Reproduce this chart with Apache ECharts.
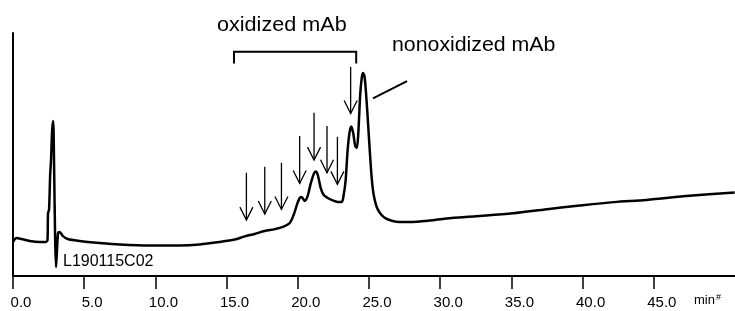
<!DOCTYPE html>
<html>
<head>
<meta charset="utf-8">
<script src="https://cdn.jsdelivr.net/npm/echarts@6/dist/echarts.min.js"></script>
<style>
  html, body { margin: 0; padding: 0; background: #fff; }
  #chart { width: 735px; height: 311px; }
</style>
</head>
<body>
<div id="chart"></div>
<script>
// chromatogram trace (min, relative signal)
const traceTime = [0, 0.26, 0.6, 1.17, 1.87, 2.3, 2.42, 2.46, 2.53, 2.61, 2.67, 2.75, 2.82, 2.89, 2.96, 3.02, 3.09, 3.17, 3.28, 3.49, 3.84,
  4.68, 6.09, 7.49, 9.6, 11.7, 13.1, 14.5, 15.57, 16.27, 16.97, 17.67, 18.38, 18.94, 19.43, 19.73, 19.93, 20.13, 20.27, 20.48, 20.69,
  20.9, 21.12, 21.26, 21.4, 21.61, 21.82, 22.1, 22.45, 22.8, 23.08, 23.22, 23.36, 23.5, 23.64, 23.76, 23.89, 24.03, 24.14, 24.24,
  24.38, 24.49, 24.58, 24.68, 24.8, 24.94, 25.05, 25.19, 25.33, 25.54, 25.82, 26.17, 26.66, 27.15, 27.85, 29.26, 30.43, 32.5,
  35.11, 37.5, 39.8, 42.2, 44.48, 47.5, 50.68];
const traceSignal = [14.0, 15.6, 15.2, 14.4, 14.0, 14.0, 14.8, 25.9, 27.2, 41.6, 47.7, 60.1, 63.8, 43.6, 14.8, 3.7, 10.7, 17.7, 18.1, 16.5, 15.2,
  14.4, 13.6, 13.0, 12.6, 12.6, 13.0, 14.0, 15.0, 16.3, 17.3, 18.5, 19.3, 20.2, 21.8, 25.5, 29.2, 32.1, 32.5, 30.9, 32.9,
  37.9, 42.0, 43.0, 41.6, 36.2, 33.3, 32.1, 31.1, 30.5, 30.5, 33.3, 39.5, 51.9, 59.3, 61.5, 58.8, 53.5, 52.7, 58.0,
  74.5, 81.5, 83.5, 82.3, 74.5, 62.1, 51.9, 40.3, 33.3, 28.4, 25.5, 23.7, 22.6, 22.2, 22.2, 22.8, 23.7, 24.6,
  25.8, 27.5, 29.0, 30.4, 31.3, 33.0, 34.4];

const xTickValues = [0, 5, 10, 15, 20, 25, 30, 35, 40, 45];

// arrows: time, shaft top, arrow tip
const arrowTime = [16.39, 17.68, 18.85, 20.13, 21.14, 22.05, 22.78, 23.71];
const arrowTop = [42.5, 45.0, 46.6, 57.6, 67.2, 61.7, 57.3, 86.1];
const arrowTip = [23.0, 25.5, 27.4, 38.1, 47.7, 42.5, 37.7, 66.9];

// bracket over the oxidized peaks: start, end, top level, foot level
const bracket = [15.52, 24.1, 92.3, 87.5];
// leader line to the main peak: t1, v1, t2, v2
const leader = [25.28, 73.1, 27.67, 80.2];

const chart = echarts.init(document.getElementById('chart'));

const arrowData = arrowTime.map((t, i) => [t, arrowTop[i], arrowTip[i]]);

const option = {
  animation: false,
  backgroundColor: '#fff',
  grid: { left: 13, right: 0, top: 33, bottom: 35 },
  xAxis: {
    type: 'value',
    min: 0,
    max: 50.7,
    axisLine: { lineStyle: { color: '#000', width: 2 } },
    axisTick: { customValues: xTickValues, length: 13, lineStyle: { color: '#000', width: 1.5 } },
    axisLabel: {
      customValues: xTickValues,
      formatter: v => v.toFixed(1),
      color: '#000',
      fontFamily: 'Liberation Sans',
      fontSize: 15,
      margin: 19,
      padding: [0, 0, 0, 16]
    },
    splitLine: { show: false }
  },
  yAxis: {
    type: 'value',
    min: 0,
    max: 100,
    axisLine: { show: true, lineStyle: { color: '#000', width: 2 } },
    axisTick: { show: false },
    axisLabel: { show: false },
    splitLine: { show: false }
  },
  series: [
    {
      type: 'line',
      data: traceTime.map((t, i) => [t, traceSignal[i]]),
      showSymbol: false,
      smooth: 0.3,
      lineStyle: { color: '#000', width: 2.5 }
    },
    {
      type: 'custom',
      data: arrowData,
      renderItem: (params, api) => {
        const top = api.coord([api.value(0), api.value(1)]);
        const tip = api.coord([api.value(0), api.value(2)]);
        const style = { stroke: '#000', lineWidth: 1.3, fill: null };
        return {
          type: 'group',
          children: [
            { type: 'line', shape: { x1: top[0], y1: top[1], x2: tip[0], y2: tip[1] }, style },
            { type: 'polyline', shape: { points: [[tip[0] - 6.5, tip[1] - 13], tip, [tip[0] + 6.5, tip[1] - 13]] }, style }
          ]
        };
      }
    },
    {
      type: 'custom',
      data: [bracket],
      renderItem: (params, api) => {
        const a = api.coord([api.value(0), api.value(3)]);
        const b = api.coord([api.value(0), api.value(2)]);
        const c = api.coord([api.value(1), api.value(2)]);
        const d = api.coord([api.value(1), api.value(3)]);
        return {
          type: 'polyline',
          shape: { points: [a, b, c, d] },
          style: { stroke: '#000', lineWidth: 2, fill: null }
        };
      }
    },
    {
      type: 'custom',
      data: [leader],
      renderItem: (params, api) => {
        const p1 = api.coord([api.value(0), api.value(1)]);
        const p2 = api.coord([api.value(2), api.value(3)]);
        return {
          type: 'line',
          shape: { x1: p1[0], y1: p1[1], x2: p2[0], y2: p2[1] },
          style: { stroke: '#000', lineWidth: 2 }
        };
      }
    }
  ],
  graphic: [
    {
      type: 'text', x: 217, y: 35, scaleX: 1.08,
      style: { text: 'oxidized mAb', fill: '#000', font: '20px "Liberation Sans"', verticalAlign: 'bottom' }
    },
    {
      type: 'text', x: 392, y: 55, scaleX: 1.065,
      style: { text: 'nonoxidized mAb', fill: '#000', font: '20px "Liberation Sans"', verticalAlign: 'bottom' }
    },
    {
      type: 'text', x: 63, y: 270,
      style: { text: 'L190115C02', fill: '#000', font: '16px "Liberation Sans"', verticalAlign: 'bottom' }
    },
    {
      type: 'text', x: 694, y: 308,
      style: {
        text: 'min{s|#}', fill: '#000', font: '13px "Liberation Sans"', verticalAlign: 'bottom',
        rich: { s: { fontSize: 9, verticalAlign: 'top', padding: [0, 0, 6, 1] } }
      }
    }
  ]
};

chart.setOption(option);
window.addEventListener('resize', () => chart.resize());
</script>
</body>
</html>
